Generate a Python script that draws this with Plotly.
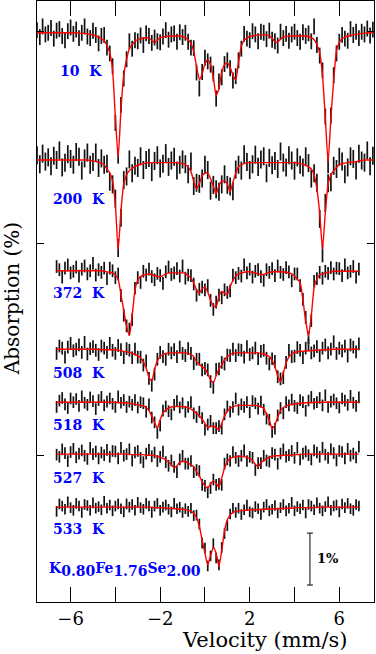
import plotly.graph_objects as go

# velocity channels (mm/s)
vel_full = [round(-7.5 + 0.125 * i, 3) for i in range(121)]
vel_short = vel_full[7:116]

# ---- 10 K ----
fit_10K = [0, 0, 0, 0, 0, 0, 0, 0, 0, 0, 0, 0, 0, 0, 0, -0.01,
           -0.01, -0.01, -0.02, -0.03, -0.04, -0.06, -0.08, -0.11, -0.15, -0.24,
           -0.38, -0.70, -1.60, -2.35, -1.45, -0.80, -0.50, -0.30, -0.22, -0.16,
           -0.13, -0.11, -0.10, -0.09, -0.10, -0.14, -0.19, -0.14, -0.09, -0.08,
           -0.07, -0.06, -0.06, -0.06, -0.06, -0.06, -0.07, -0.09, -0.13, -0.20,
           -0.35, -0.64, -0.88, -0.78, -0.58, -0.51, -0.60, -0.85, -1.18, -1.05,
           -0.75, -0.60, -0.57, -0.65, -0.80, -0.89, -0.55, -0.25, -0.14, -0.10,
           -0.07, -0.06, -0.05, -0.04, -0.04, -0.04, -0.04, -0.06, -0.10, -0.17,
           -0.18, -0.12, -0.08, -0.07, -0.06, -0.06, -0.06, -0.06, -0.06, -0.06,
           -0.06, -0.07, -0.09, -0.13, -0.22, -0.38, -0.80, -1.60, -2.45, -1.60,
           -0.90, -0.33, -0.18, -0.11, -0.08, -0.06, -0.05, -0.04, -0.03, -0.02,
           -0.01, -0.01, 0, 0, 0]
data_10K = [0.05, -0.08, 0.12, -0.03, 0.00, 0.09, -0.11, 0.04, 0.07, -0.06,
            -0.14, 0.03, 0.10, -0.02, 0.06, -0.10, 0.00, 0.12, -0.07, -0.10,
            0.04, -0.04, -0.20, -0.06, -0.04, -0.28, -0.39, -0.63, -1.70, -2.32,
            -1.36, -0.86, -0.50, -0.16, -0.30, -0.14, -0.16, -0.05, -0.23, -0.01,
            -0.06, -0.19, -0.09, -0.16, -0.18, -0.07, 0.05, -0.13, -0.03, -0.01,
            -0.17, 0.01, -0.08, 0.00, -0.17, -0.28, -0.29, -0.75, -1.05, -0.74,
            -0.47, -0.54, -0.60, -0.77, -1.24, -0.92, -0.84, -0.59, -0.52, -0.67,
            -0.90, -0.82, -0.52, -0.30, -0.02, -0.11, -0.14, 0.03, -0.03, -0.16,
            0.02, 0.00, -0.12, 0.04, -0.13, -0.16, -0.24, 0.02, -0.10, -0.02,
            -0.15, -0.03, 0.02, -0.10, -0.17, 0.01, -0.06, -0.01, -0.16, 0.12,
            -0.23, -0.43, -0.71, -1.58, -2.50, -1.56, -0.80, -0.39, -0.17, -0.04,
            -0.11, -0.15, 0.07, -0.04, 0.02, -0.10, 0.02, -0.03, 0.08, -0.05,
            0.06]

# ---- 200 K ----
fit_200K = [0, 0, 0, 0, 0, 0, 0, 0, 0, 0, 0, 0, 0, 0, 0, 0, 0, 0, 0, -0.01,
            -0.02, -0.03, -0.04, -0.06, -0.09, -0.17, -0.24, -0.40, -0.85, -1.70,
            -0.95, -0.45, -0.28, -0.20, -0.16, -0.12, -0.10, -0.08, -0.07, -0.06,
            -0.05, -0.05, -0.05, -0.05, -0.05, -0.05, -0.05, -0.05, -0.05, -0.05,
            -0.05, -0.06, -0.07, -0.09, -0.13, -0.22, -0.40, -0.55, -0.45, -0.30,
            -0.25, -0.25, -0.35, -0.50, -0.64, -0.48, -0.40, -0.40, -0.45, -0.60,
            -0.42, -0.25, -0.13, -0.09, -0.07, -0.05, -0.05, -0.05, -0.05, -0.05,
            -0.05, -0.05, -0.05, -0.05, -0.05, -0.05, -0.05, -0.05, -0.05, -0.05,
            -0.05, -0.05, -0.05, -0.06, -0.07, -0.08, -0.10, -0.13, -0.17, -0.28,
            -0.55, -1.00, -1.68, -1.00, -0.45, -0.28, -0.20, -0.14, -0.09, -0.07,
            -0.06, -0.05, -0.04, -0.04, -0.03, -0.02, -0.01, 0, 0, 0, 0]
data_200K = [0.09, -0.08, 0.12, -0.03, 0.05, -0.12, 0.08, 0.00, 0.18, -0.14,
             -0.05, 0.11, 0.02, -0.09, 0.15, 0.06, -0.20, 0.03, 0.14, -0.09,
             -0.04, 0.14, -0.15, 0.03, -0.09, -0.07, -0.41, -0.46, -0.73, -1.66,
             -1.09, -0.38, -0.31, 0.01, -0.25, -0.11, -0.15, 0.07, -0.19, 0.00,
             0.04, -0.23, -0.02, 0.09, -0.16, -0.07, 0.13, -0.13, -0.01, 0.06,
             -0.20, -0.09, 0.01, -0.08, -0.27, -0.03, -0.49, -0.43, -0.45, -0.35,
             -0.09, -0.19, -0.58, -0.47, -0.55, -0.60, -0.46, -0.27, -0.47, -0.50,
             -0.59, -0.18, -0.09, -0.20, 0.11, -0.04, -0.19, -0.08, 0.10, -0.13,
             0.01, 0.07, -0.25, 0.04, -0.10, -0.02, -0.17, 0.16, -0.05, -0.14,
             0.09, -0.01, -0.20, 0.05, -0.09, -0.14, 0.07, -0.06, -0.35, -0.25,
             -0.43, -1.11, -1.76, -0.81, -0.44, -0.42, -0.11, -0.17, 0.06, -0.03,
             -0.27, -0.14, 0.07, 0.02, -0.20, 0.12, -0.01, -0.05, 0.18, -0.12,
             0.08]

# ---- 372 K ----
fit_372K = [0, 0, 0, 0, 0, 0, 0, 0, 0, 0, 0, 0, 0, 0, 0, 0, 0, -0.01, -0.02, -0.03,
            -0.04, -0.08, -0.16, -0.45, -0.75, -1.05, -1.22, -0.85, -0.36, -0.18,
            -0.11, -0.08, -0.07, -0.06, -0.07, -0.09, -0.11, -0.11, -0.09, -0.06,
            -0.04, -0.04, -0.04, -0.04, -0.04, -0.04, -0.05, -0.09, -0.14, -0.23,
            -0.36, -0.42, -0.34, -0.31, -0.40, -0.55, -0.66, -0.68, -0.48, -0.39,
            -0.42, -0.45, -0.30, -0.18, -0.10, -0.06, -0.04, -0.03, -0.02, -0.02,
            -0.03, -0.04, -0.06, -0.07, -0.07, -0.05, -0.03, -0.02, -0.02, -0.02,
            -0.02, -0.02, -0.03, -0.04, -0.06, -0.10, -0.16, -0.22, -0.55, -0.95,
            -1.23, -0.85, -0.32, -0.15, -0.08, -0.06, -0.04, -0.03, -0.02, -0.01,
            -0.01, -0.01, -0.01, -0.01, -0.01, -0.01, -0.01, -0.01, -0.01]
data_372K = [0.08, 0.02, -0.12, 0.05, 0.11, -0.04, -0.01, 0.07, -0.10, 0.03,
             0.09, -0.06, 0.00, 0.14, -0.08, 0.02, -0.03, 0.05, -0.15, 0.05,
             0.00, -0.13, -0.06, -0.47, -0.84, -1.04, -1.10, -0.92, -0.33, -0.13,
             -0.22, -0.01, -0.08, 0.03, -0.11, -0.17, -0.05, -0.09, -0.24, -0.02,
             0.07, -0.07, -0.04, 0.04, -0.10, 0.09, -0.14, -0.08, -0.09, -0.25,
             -0.46, -0.35, -0.31, -0.36, -0.28, -0.56, -0.73, -0.59, -0.46, -0.51,
             -0.36, -0.41, -0.38, -0.08, -0.13, -0.05, -0.10, 0.11, -0.04, 0.03,
             -0.12, -0.01, 0.02, -0.11, -0.18, 0.02, -0.03, 0.04, -0.09, 0.09,
             -0.03, -0.07, 0.06, -0.02, -0.19, -0.06, -0.06, -0.28, -0.54, -0.88,
             -1.26, -0.94, -0.20, -0.15, -0.03, -0.14, -0.01, -0.05, 0.06, -0.06,
             0.05, 0.04, -0.09, 0.11, -0.04, -0.01, 0.08, -0.12, 0.03]

# ---- 508 K ----
fit_508K = [0, 0, 0, 0, 0, 0, 0, 0, 0, 0, 0, 0, 0, 0, 0, 0, -0.01, -0.01, -0.01, -0.01,
            -0.01, -0.01, -0.02, -0.03, -0.04, -0.05, -0.06, -0.08, -0.10, -0.12,
            -0.16, -0.24, -0.36, -0.53, -0.60, -0.38, -0.22, -0.14, -0.10, -0.08,
            -0.07, -0.07, -0.07, -0.07, -0.07, -0.07, -0.07, -0.08, -0.10, -0.14,
            -0.23, -0.29, -0.33, -0.37, -0.46, -0.58, -0.63, -0.50, -0.37, -0.30,
            -0.20, -0.14, -0.10, -0.08, -0.07, -0.07, -0.07, -0.07, -0.07, -0.07,
            -0.07, -0.07, -0.07, -0.08, -0.09, -0.11, -0.14, -0.21, -0.33, -0.50,
            -0.62, -0.45, -0.26, -0.15, -0.09, -0.06, -0.05, -0.04, -0.04, -0.03,
            -0.03, -0.03, -0.02, -0.02, -0.02, -0.01, -0.01, -0.01, 0, 0,
            0, 0, 0, 0, 0, 0, 0, 0, 0]
data_508K = [-0.08, 0.06, 0.02, -0.15, 0.04, 0.11, -0.03, 0.00, 0.08, -0.06,
             0.13, -0.09, 0.01, 0.05, -0.02, -0.10, 0.06, 0.02, -0.06, 0.11,
             -0.02, -0.08, 0.07, -0.01, -0.16, 0.01, -0.02, -0.16, 0.00, -0.15,
             -0.15, -0.30, -0.22, -0.55, -0.68, -0.47, -0.19, -0.06, -0.14, -0.19,
             0.00, -0.07, -0.01, -0.14, 0.04, -0.08, -0.12, 0.01, -0.08, -0.27,
             -0.19, -0.19, -0.39, -0.36, -0.39, -0.61, -0.72, -0.38, -0.37, -0.25,
             -0.28, -0.11, -0.12, 0.00, -0.12, -0.01, -0.02, -0.15, 0.05, -0.10,
             -0.07, 0.02, -0.18, -0.04, -0.02, -0.17, -0.28, -0.18, -0.23, -0.52,
             -0.56, -0.54, -0.25, -0.02, -0.14, -0.13, 0.03, -0.02, -0.16, 0.02,
             0.08, -0.07, -0.03, 0.05, -0.12, 0.02, 0.08, -0.07, 0.00, 0.14,
             -0.08, 0.02, -0.03, 0.06, -0.13, 0.08, 0.04, -0.05, 0.10]

# ---- 518 K ----
fit_518K = [0, 0, 0, 0, 0, 0, 0, 0, 0, 0, 0, 0, 0, 0, 0, 0, 0, 0, 0, 0,
            0, 0, -0.01, -0.01, -0.01, -0.01, -0.02, -0.03, -0.04, -0.05,
            -0.06, -0.07, -0.10, -0.16, -0.26, -0.38, -0.49, -0.33, -0.20, -0.15,
            -0.11, -0.09, -0.08, -0.08, -0.08, -0.08, -0.09, -0.10, -0.13, -0.16,
            -0.21, -0.26, -0.32, -0.40, -0.47, -0.46, -0.45, -0.48, -0.52, -0.40,
            -0.26, -0.17, -0.12, -0.09, -0.07, -0.06, -0.06, -0.06, -0.06, -0.06,
            -0.06, -0.06, -0.07, -0.09, -0.12, -0.22, -0.34, -0.50, -0.43, -0.28,
            -0.16, -0.10, -0.07, -0.05, -0.04, -0.03, -0.03, -0.02, -0.02, -0.01,
            -0.01, -0.01, 0, 0, 0, 0, 0, 0, 0, 0,
            0, 0, 0, 0, 0, 0, 0, 0, 0]
data_518K = [-0.09, 0.03, 0.08, -0.04, -0.11, 0.07, 0.00, 0.06, -0.07, 0.11,
             -0.01, -0.05, 0.09, 0.02, -0.13, 0.04, 0.10, -0.06, 0.01, 0.07,
             -0.03, -0.09, 0.11, -0.01, 0.04, -0.09, 0.01, -0.05, 0.04, -0.10,
             0.00, -0.02, -0.18, -0.04, -0.29, -0.38, -0.58, -0.44, -0.16, -0.08,
             -0.17, -0.23, -0.05, 0.02, -0.10, -0.02, -0.18, -0.09, 0.00, -0.21,
             -0.28, -0.18, -0.30, -0.52, -0.42, -0.35, -0.49, -0.49, -0.45, -0.50,
             -0.23, -0.08, -0.18, -0.09, 0.07, -0.14, -0.04, -0.09, 0.00, -0.19,
             0.02, -0.02, -0.12, 0.01, -0.14, -0.31, -0.33, -0.56, -0.50, -0.25,
             -0.11, -0.21, 0.00, -0.06, 0.05, -0.07, -0.11, 0.04, 0.00, -0.16,
             0.03, 0.10, -0.03, 0.00, 0.08, -0.06, 0.13, -0.09, 0.01, 0.05,
             -0.02, -0.10, 0.07, 0.03, -0.05, 0.12, -0.01, -0.07, 0.09]

# ---- 527 K ----
fit_527K = [0, 0, 0, 0, 0, 0, 0, 0, 0, 0, 0, 0, 0, 0, 0, 0, 0, 0, 0, 0,
            0, 0, 0, 0, 0, 0, 0, -0.01, -0.01, -0.01, -0.01, -0.01, -0.02, -0.02,
            -0.02, -0.03, -0.04, -0.06, -0.08, -0.10, -0.15, -0.20, -0.26, -0.22,
            -0.15, -0.14, -0.14, -0.17, -0.20, -0.24, -0.33, -0.41, -0.52, -0.60,
            -0.64, -0.56, -0.50, -0.55, -0.62, -0.45, -0.26, -0.14, -0.08, -0.06,
            -0.05, -0.04, -0.04, -0.05, -0.06, -0.08, -0.12, -0.19, -0.24, -0.16,
            -0.12, -0.08, -0.06, -0.04, -0.03, -0.03, -0.03, -0.02, -0.02, -0.02,
            -0.02, -0.01, -0.01, -0.01, 0, 0, 0, 0, 0, 0, 0, 0, 0, 0, 0,
            0, 0, 0, 0, 0, 0, 0, 0, 0, 0, 0]
data_527K = [-0.01, -0.05, 0.09, 0.02, -0.13, 0.04, 0.10, -0.06, 0.01, 0.07,
             -0.03, -0.09, 0.12, 0.00, 0.05, -0.08, 0.03, -0.02, 0.08, -0.05,
             0.06, 0.05, -0.08, 0.12, -0.03, 0.00, 0.09, -0.12, 0.03, 0.06,
             -0.07, -0.15, 0.01, 0.08, -0.04, 0.03, -0.13, -0.05, 0.05, -0.15,
             -0.22, -0.12, -0.24, -0.34, -0.10, -0.03, -0.18, -0.18, -0.13, -0.34,
             -0.30, -0.32, -0.58, -0.60, -0.72, -0.64, -0.48, -0.58, -0.56, -0.58,
             -0.18, -0.10, -0.13, 0.04, -0.07, -0.13, -0.03, 0.07, -0.13, -0.05,
             -0.07, -0.30, -0.17, -0.17, -0.03, -0.12, -0.14, 0.02, -0.01, -0.18,
             0.01, 0.09, -0.05, -0.02, 0.06, -0.07, 0.12, -0.10, 0.01, 0.05,
             -0.02, -0.10, 0.07, 0.03, -0.05, 0.12, -0.01, -0.07, 0.09, 0.02,
             -0.12, 0.06, 0.04, -0.08, 0.10, -0.03, 0.01, -0.06, 0.14]

# ---- 533 K ----
fit_533K = [0, 0, 0, 0, 0, 0, 0, 0, 0, 0, 0, 0, 0, 0, 0, 0, 0, 0, 0, 0,
            0, 0, 0, 0, 0, 0, 0, 0, 0, 0, 0, 0, 0, 0, 0, -0.01, -0.01, -0.01,
            -0.01, -0.02, -0.02, -0.02, -0.03, -0.03, -0.04, -0.04, -0.05, -0.06,
            -0.08, -0.12, -0.20, -0.36, -0.62, -0.87, -1.09, -0.92, -0.76, -0.87,
            -1.12, -0.82, -0.45, -0.24, -0.15, -0.10, -0.08, -0.07, -0.07, -0.06,
            -0.06, -0.05, -0.05, -0.05, -0.05, -0.04, -0.04, -0.04, -0.04, -0.03,
            -0.03, -0.03, -0.03, -0.02, -0.02, -0.02, -0.02, -0.01, -0.01, -0.01,
            -0.01, -0.01, -0.01, -0.01, -0.01, 0, 0, 0, 0, 0, 0, 0, 0, 0, 0,
            0, 0, 0, 0, 0, 0]
data_533K = [-0.08, 0.06, 0.02, -0.04, 0.10, -0.01, -0.06, 0.07, 0.02, -0.10,
             0.05, 0.03, -0.06, 0.08, -0.02, 0.01, -0.05, 0.11, -0.02, 0.04,
             -0.07, 0.02, 0.06, -0.03, -0.09, 0.06, 0.00, 0.05, -0.06, 0.09,
             -0.01, -0.04, 0.07, 0.02, -0.10, 0.02, 0.07, -0.06, 0.00, 0.04,
             -0.04, -0.09, 0.07, -0.03, 0.00, -0.10, -0.03, -0.08, -0.02, -0.16,
             -0.15, -0.32, -0.68, -0.77, -1.11, -0.92, -0.69, -0.96, -1.09, -0.76,
             -0.50, -0.35, -0.13, -0.02, -0.10, -0.02, -0.14, -0.05, 0.04, -0.09,
             -0.11, 0.01, -0.03, -0.14, 0.00, 0.05, -0.07, -0.04, 0.03, -0.11,
             -0.01, 0.05, -0.07, -0.02, 0.09, -0.07, 0.01, -0.03, 0.04, -0.11,
             0.05, 0.02, -0.05, 0.08, -0.02, -0.07, 0.01, 0.10, -0.06, 0.02,
             0.04, -0.09, 0.06, -0.01, 0.07, -0.03, -0.06, 0.05, 0.02]

temperatures = ["10 K", "200 K", "372 K", "508 K", "518 K", "527 K", "533 K"]
velocities = [vel_full, vel_full, vel_short, vel_short, vel_short, vel_short, vel_short]
fits = [fit_10K, fit_200K, fit_372K, fit_508K, fit_518K, fit_527K, fit_533K]
datas = [data_10K, data_200K, data_372K, data_508K, data_518K, data_527K, data_533K]
errors = [0.15, 0.17, 0.12, 0.12, 0.11, 0.11, 0.10]

# vertical placement of each spectrum (baseline, in % units) and its label
offsets = [10.74, 8.34, 6.25, 4.77, 3.77, 2.79, 1.79]
label_x = [-6.56, -6.87, -6.87, -6.87, -6.87, -6.87, -6.87]
label_y = [10.02, 7.60, 5.83, 4.32, 3.34, 2.34, 1.38]

fig = go.Figure()

for vel, fit, dat, err, off in zip(velocities, fits, datas, errors, offsets):
    fig.add_trace(go.Scatter(
        x=vel, y=[off + d for d in dat], mode="markers",
        marker=dict(size=1, color="rgba(0,0,0,0)"),
        error_y=dict(type="constant", value=err, width=0, thickness=1.7, color="#111111"),
        hoverinfo="skip"))
    fig.add_trace(go.Scatter(
        x=vel, y=[off + f for f in fit], mode="lines",
        line=dict(color="#ff0000", width=1.4, shape="spline", smoothing=0.5),
        hoverinfo="skip"))

# 1% scale bar
fig.add_trace(go.Scatter(
    x=[4.69], y=[0.81], mode="markers", marker=dict(size=1, color="rgba(0,0,0,0)"),
    error_y=dict(type="constant", value=0.49, width=3, thickness=1, color="black"),
    hoverinfo="skip"))

serif = "DejaVu Serif"
annotations = []
for t, lx, ly in zip(temperatures, label_x, label_y):
    annotations.append(dict(
        x=lx, y=ly, xref="x", yref="y", xanchor="left", yanchor="middle",
        text="<b>" + t.replace(" ", "\u00a0\u00a0") + "</b>", showarrow=False,
        font=dict(family=serif, size=14, color="#0000ff")))

annotations.append(dict(
    x=-7.05, y=0.62, xref="x", yref="y", xanchor="left", yanchor="middle",
    text=("<b>K<sub><span style='font-size:14px'>0.80</span></sub>"
          "Fe<sub><span style='font-size:14px'>1.76</span></sub>"
          "Se<sub><span style='font-size:14px'>2.00</span></sub></b>"),
    showarrow=False, font=dict(family=serif, size=14, color="#0000ff")))
annotations.append(dict(
    x=5.51, y=0.83, xref="x", yref="y", xanchor="center", yanchor="middle",
    text="<b>1%</b>", showarrow=False, font=dict(family=serif, size=13, color="black")))
annotations.append(dict(
    x=2.7, y=-0.063, xref="x", yref="paper", xanchor="center", yanchor="middle",
    text="Velocity (mm/s)", showarrow=False, font=dict(family=serif, size=21, color="black")))
annotations.append(dict(
    x=-0.074, y=0.504, xref="paper", yref="paper", xanchor="center", yanchor="middle",
    text="Absorption (%)", textangle=-90, showarrow=False,
    font=dict(family=serif, size=20, color="black")))

fig.update_layout(
    width=376, height=654,
    margin=dict(l=37, r=2, t=1, b=52),
    paper_bgcolor="white", plot_bgcolor="white",
    showlegend=False,
    annotations=annotations,
    xaxis=dict(range=[-7.5, 7.55], tickvals=[-6, -4, -2, 0, 2, 4, 6],
               ticktext=["\u22126", "", "\u22122", "", "2", "", "6"],
               ticks="inside", ticklen=15, tickwidth=1, tickcolor="black",
               showline=True, linecolor="black", linewidth=1, mirror="ticks",
               showgrid=False, zeroline=False,
               tickfont=dict(family=serif, size=18, color="black")),
    yaxis=dict(range=[0, 11.34], tickvals=[2.77, 6.77, 10.77], showticklabels=False,
               ticks="inside", ticklen=7, tickwidth=1, tickcolor="black",
               showline=True, linecolor="black", linewidth=1, mirror="ticks",
               showgrid=False, zeroline=False),
)

# page body has a default 8px margin; drop it so the figure fills the window
fig.write_html("out.html", config={"displayModeBar": False},
               post_script="document.body.style.margin='0';document.body.style.overflow='hidden';")
